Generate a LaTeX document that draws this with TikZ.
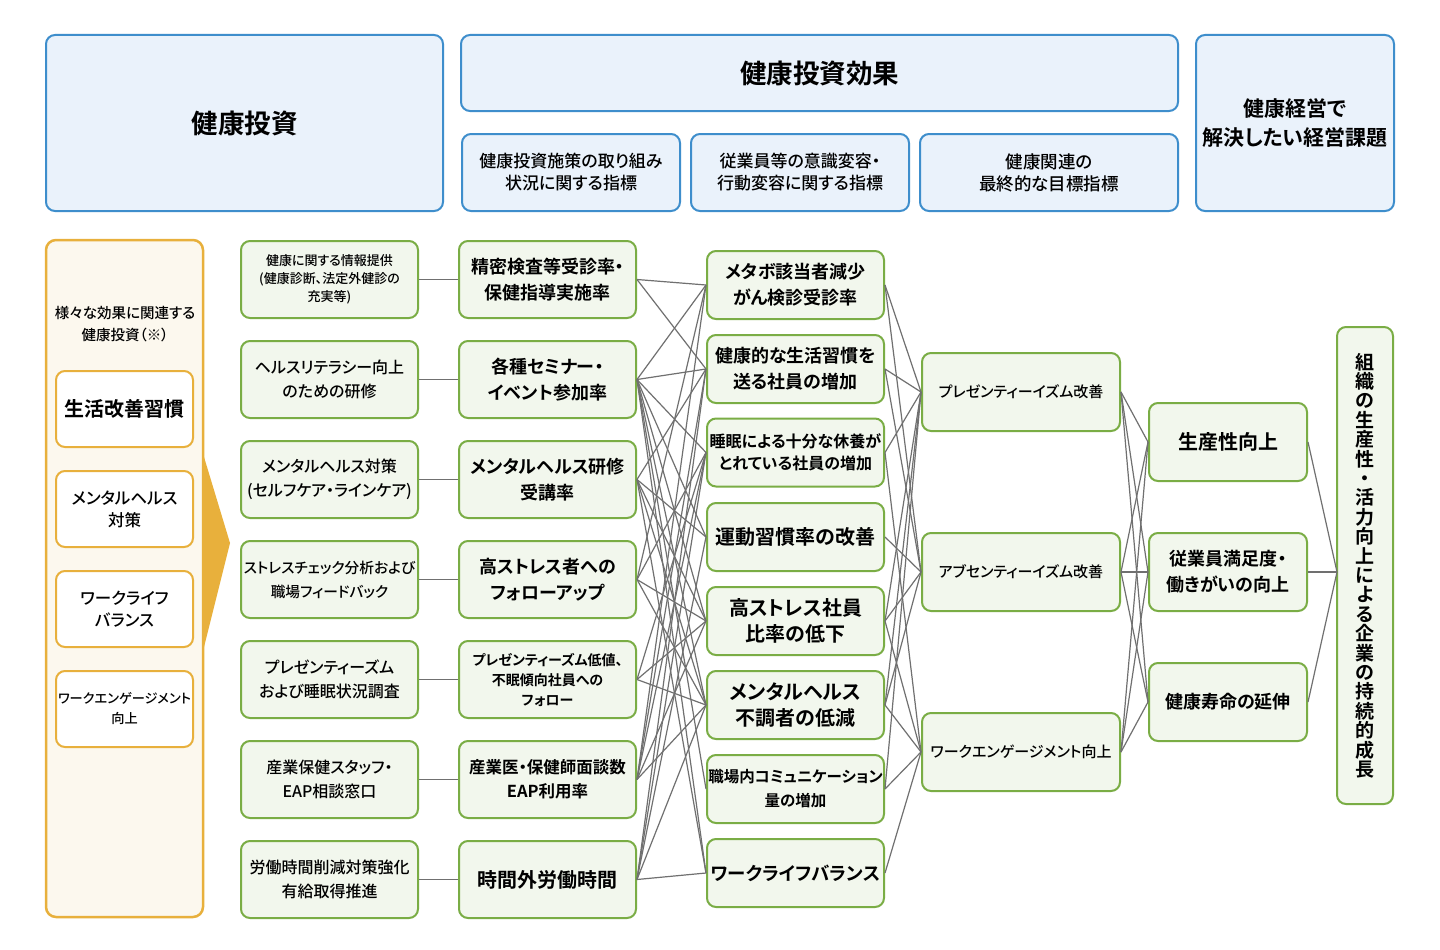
\documentclass[tikz,border=0pt]{standalone}
\usepackage{fontspec}
\setmainfont{Noto Sans CJK JP}[RawFeature=+palt,BoldFont={Noto Sans CJK JP Medium}]
\newfontfamily\heavy{Noto Sans CJK JP Bold}[RawFeature=+palt]
\newcommand\fsz[2]{\fontsize{#1}{#2}\selectfont}
\definecolor{bblue}{RGB}{62,142,204}
\definecolor{fblue}{RGB}{234,242,251}
\definecolor{bgreen}{RGB}{122,173,69}
\definecolor{fgreen}{RGB}{242,247,237}
\definecolor{borange}{RGB}{232,176,60}
\definecolor{forange}{RGB}{252,248,238}
\definecolor{lgray}{RGB}{112,112,112}
\begin{document}
\begin{tikzpicture}[x=1pt,y=-1pt,
  bluebox/.style={draw=bblue,fill=fblue,line width=2pt,rounded corners=9pt,align=center,inner sep=0pt},
  greenbox/.style={draw=bgreen,fill=fgreen,line width=2pt,rounded corners=9pt,align=center,inner sep=0pt,minimum width=177pt,minimum height=77pt},
  dbox/.style={greenbox,minimum height=68pt},
  ebox/.style={greenbox,minimum width=198pt,minimum height=78pt},
  fbox/.style={greenbox,minimum width=158pt,minimum height=78pt},
  obox/.style={draw=borange,fill=white,line width=2pt,rounded corners=9pt,align=center,inner sep=0pt,minimum width=137pt,minimum height=76pt},
  conn/.style={draw=lgray,line width=1.2pt}
]
\useasboundingbox (0,0) rectangle (1440,950);
\fill[white] (0,0) rectangle (1440,950);

% header
\node[bluebox,minimum width=397pt,minimum height=176pt,font=\fsz{26.5}{30}\heavy] (H1) at (244.5,123) {健康投資};
\node[bluebox,minimum width=717pt,minimum height=76pt,font=\fsz{26.5}{30}\heavy] (H2) at (819.5,73) {健康投資効果};
\node[bluebox,minimum width=218pt,minimum height=77pt,font=\fsz{17}{22}\bfseries] (H3) at (571,172.5) {健康投資施策の取り組み\\状況に関する指標};
\node[bluebox,minimum width=218pt,minimum height=77pt,font=\fsz{17}{22}\bfseries] (H4) at (800,172.5) {従業員等の意識変容・\\行動変容に関する指標};
\node[bluebox,minimum width=258pt,minimum height=77pt,font=\fsz{17.5}{22}\bfseries] (H5) at (1049,172.5) {健康関連の\\最終的な目標指標};
\node[bluebox,minimum width=198pt,minimum height=176pt,font=\fsz{21}{29}\heavy] (H6) at (1295,123) {健康経営で\\解決したい経営課題};

% left panel
\node[draw=borange,fill=forange,line width=2.5pt,rounded corners=10pt,minimum width=157pt,minimum height=677pt] (P) at (124.5,578.5) {};
\node[align=center,font=\fsz{14.5}{22}\bfseries] (PL) at (125,324) {様々な効果に関連する\\健康投資（※）};
\node[obox,font=\fsz{20}{26}\heavy] (L1) at (124.5,409) {生活改善習慣};
\node[obox,font=\fsz{16.5}{22}\bfseries] (L2) at (124.5,509) {メンタルヘルス\\対策};
\node[obox,font=\fsz{16.5}{22}\bfseries] (L3) at (124.5,609) {ワークライフ\\バランス};
\node[obox,font=\fsz{13.2}{20}\bfseries] (L4) at (124.5,709) {ワークエンゲージメント\\向上};
\fill[borange] (204,457) -- (230,543) -- (204,647) -- cycle;

% column B
\node[greenbox,font=\fsz{13}{18}\bfseries] (B1) at (329.5,279.5) {健康に関する情報提供\\(健康診断、法定外健診の\\充実等)};
\node[greenbox,font=\fsz{16}{24}\bfseries] (B2) at (329.5,379.5) {ヘルスリテラシー向上\\のための研修};
\node[greenbox,font=\fsz{16}{24}\bfseries] (B3) at (329.5,479.5) {メンタルヘルス対策\\(セルフケア・ラインケア)};
\node[greenbox,font=\fsz{14.7}{24}\bfseries] (B4) at (329.5,579.5) {ストレスチェック分析および\\職場フィードバック};
\node[greenbox,font=\fsz{16}{24}\bfseries] (B5) at (329.5,679.5) {プレゼンティーズム\\および睡眠状況調査};
\node[greenbox,font=\fsz{16}{24}\bfseries] (B6) at (329.5,779.5) {産業保健スタッフ・\\EAP相談窓口};
\node[greenbox,font=\fsz{16}{24}\bfseries] (B7) at (329.5,879.5) {労働時間削減対策強化\\有給取得推進};

% column C
\node[greenbox,font=\fsz{18}{26}\heavy] (C1) at (547.5,279.5) {精密検査等受診率・\\保健指導実施率};
\node[greenbox,font=\fsz{18}{26}\heavy] (C2) at (547.5,379.5) {各種セミナー・\\イベント参加率};
\node[greenbox,font=\fsz{18}{26}\heavy] (C3) at (547.5,479.5) {メンタルヘルス研修\\受講率};
\node[greenbox,font=\fsz{18}{26}\heavy] (C4) at (547.5,579.5) {高ストレス者への\\フォローアップ};
\node[greenbox,font=\fsz{14}{20}\heavy] (C5) at (547.5,679.5) {プレゼンティーズム低値、\\不眠傾向社員への\\フォロー};
\node[greenbox,font=\fsz{16.5}{24}\heavy] (C6) at (547.5,779.5) {産業医・保健師面談数\\EAP利用率};
\node[greenbox,font=\fsz{20}{26}\heavy] (C7) at (547.5,879.5) {時間外労働時間};

% column D
\node[dbox,font=\fsz{18}{26}\heavy] (D1) at (795.5,285) {メタボ該当者減少\\がん検診受診率};
\node[dbox,font=\fsz{18}{26}\heavy] (D2) at (795.5,369) {健康的な生活習慣を\\送る社員の増加};
\node[dbox,font=\fsz{16}{22}\heavy] (D3) at (795.5,452.5) {睡眠による十分な休養が\\とれている社員の増加};
\node[dbox,font=\fsz{20}{26}\heavy] (D4) at (795.5,537) {運動習慣率の改善};
\node[dbox,font=\fsz{20}{26}\heavy] (D5) at (795.5,621) {高ストレス社員\\比率の低下};
\node[dbox,font=\fsz{20}{26}\heavy] (D6) at (795.5,705) {メンタルヘルス\\不調者の低減};
\node[dbox,font=\fsz{15.5}{24}\heavy] (D7) at (795.5,789) {職場内コミュニケーション\\量の増加};
\node[dbox,font=\fsz{18.4}{24}\heavy] (D8) at (795.5,873) {ワークライフバランス};

% column E
\node[ebox,font=\fsz{15}{24}\bfseries] (E1) at (1021,392) {プレゼンティーイズム改善};
\node[ebox,font=\fsz{15}{24}\bfseries] (E2) at (1021,572) {アブセンティーイズム改善};
\node[ebox,font=\fsz{15}{24}\bfseries] (E3) at (1021,752) {ワークエンゲージメント向上};

% column F
\node[fbox,font=\fsz{20}{26}\heavy] (F1) at (1228,442) {生産性向上};
\node[fbox,font=\fsz{18}{26}\heavy] (F2) at (1228,572) {従業員満足度・\\働きがいの向上};
\node[fbox,font=\fsz{18}{26}\heavy] (F3) at (1228,702) {健康寿命の延伸};

% column G
\node[greenbox,minimum width=56pt,minimum height=477pt,font=\fsz{19}{19.4}\heavy] (G) at (1365,565.5)
 {組\\織\\の\\生\\産\\性\\・\\活\\力\\向\\上\\に\\よ\\る\\企\\業\\の\\持\\続\\的\\成\\長};
\coordinate (Gin) at (1337,572);

% B -> C
\foreach \i in {1,...,7} { \draw[conn] (B\i.east) -- (C\i.west); }

% C -> D
\foreach \a/\b in {1/1,1/2,
  2/1,2/2,2/3,2/4,2/5,2/6,2/7,2/8,
  3/2,3/4,3/5,3/6,3/8,
  4/1,4/3,4/5,4/6,
  5/3,5/5,5/6,
  6/1,6/2,6/3,6/5,6/6,
  7/2,7/3,7/4,7/6,7/8}
  { \draw[conn] (C\a.east) -- (D\b.west); }

% D -> E
\foreach \a/\b in {1/1,1/2,2/1,2/2,3/1,3/3,4/2,5/1,5/2,5/3,6/1,6/2,6/3,7/1,7/3,8/3}
  { \draw[conn] (D\a.east) -- (E\b.west); }

% E -> F
\foreach \a in {1,2,3} { \foreach \b in {1,2,3} { \draw[conn] (E\a.east) -- (F\b.west); } }

% F -> G
\foreach \a in {1,2,3} { \draw[conn] (F\a.east) -- (Gin); }

\end{tikzpicture}
\end{document}
